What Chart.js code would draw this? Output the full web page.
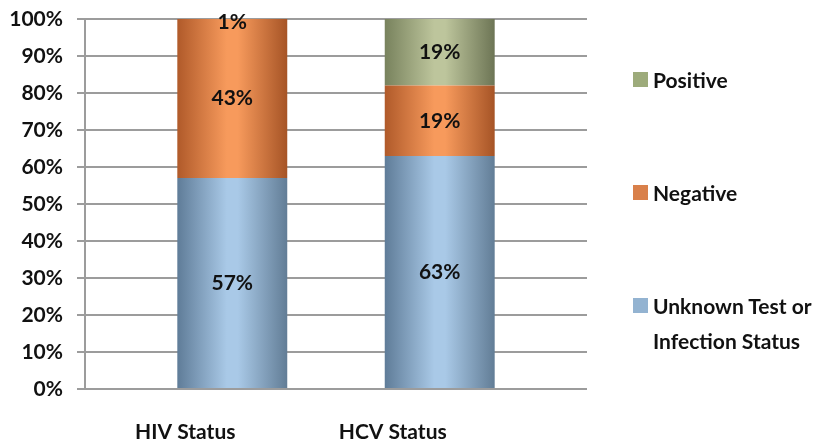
<!DOCTYPE html>
<html>
<head>
<meta charset="utf-8">
<script src="https://cdn.jsdelivr.net/npm/chart.js@4"></script>
<style>
  html, body { margin: 0; padding: 0; background: #fff; }
  .wrap { position: relative; width: 823px; height: 445px; }
  .legend { position: absolute; left: 633px; top: 62px; font: bold 21px Lato, sans-serif; color: #111; }
  .legend .item { display: flex; align-items: flex-start; line-height: 35px; margin-bottom: 78px; }
  .legend .box { width: 15px; height: 15px; margin: 10px 5px 0 0; flex: none; }
</style>
</head>
<body>
<div class="wrap">
  <canvas id="chart" width="823" height="445"></canvas>
  <div class="legend" id="legend"></div>
</div>
<script>
const categories = ["HIV Status", "HCV Status"];
const unknownStatus = [57, 63];
const negative = [43, 19];
const positive = [1, 19];
const yTicks = [0, 10, 20, 30, 40, 50, 60, 70, 80, 90, 100];

const BAR_PCT = 0.53;
const FONT = { family: "Lato, sans-serif", size: 21, weight: "bold" };

// shaded "cylinder" fill across each bar
function cylinder(left, mid, right) {
  return (ctx) => {
    const chart = ctx.chart;
    const x = chart.scales.x;
    if (!x || !chart.chartArea) return mid;
    const c = x.getPixelForValue(ctx.dataIndex);
    const half = (x.getPixelForValue(1) - x.getPixelForValue(0)) * BAR_PCT / 2;
    const g = chart.ctx.createLinearGradient(c - half, 0, c + half, 0);
    g.addColorStop(0, left);
    g.addColorStop(0.45, mid);
    g.addColorStop(0.55, mid);
    g.addColorStop(1, right);
    return g;
  };
}

function points(values) {
  return values.map((v, i) => ({ x: i, y: v }));
}

const series = [
  {
    label: "Unknown Test or\nInfection Status",
    data: points(unknownStatus),
    backgroundColor: cylinder("#5f7c98", "#a9c9e7", "#627d96"),
    legendColor: "#93b3d1",
  },
  {
    label: "Negative",
    data: points(negative),
    backgroundColor: cylinder("#b05a2a", "#f79a5c", "#a65426"),
    legendColor: "#d9804a",
  },
  {
    label: "Positive",
    data: points(positive),
    backgroundColor: cylinder("#78825d", "#bdc59c", "#6d7555"),
    legendColor: "#9dab7b",
  },
];

// percentage text in the middle of the visible part of each segment
const segmentLabels = {
  id: "segmentLabels",
  afterDatasetsDraw(chart) {
    const { ctx, chartArea } = chart;
    ctx.save();
    ctx.font = `${FONT.weight} ${FONT.size}px ${FONT.family}`;
    ctx.fillStyle = "#111";
    ctx.textAlign = "center";
    ctx.textBaseline = "middle";
    chart.data.datasets.forEach((ds, di) => {
      chart.getDatasetMeta(di).data.forEach((bar, i) => {
        const top = Math.max(bar.y, chartArea.top);
        const bottom = Math.min(bar.base, chartArea.bottom);
        const y = Math.max((top + bottom) / 2, chartArea.top + 3);
        ctx.fillText(ds.data[i].y + "%", bar.x, y);
      });
    });
    ctx.restore();
  },
};

const chart = new Chart(document.getElementById("chart"), {
  type: "bar",
  data: {
    datasets: series.map((s) => ({
      label: s.label,
      data: s.data,
      backgroundColor: s.backgroundColor,
      borderWidth: 0,
      barPercentage: BAR_PCT,
      categoryPercentage: 1,
      clip: 0,
    })),
  },
  options: {
    responsive: false,
    animation: false,
    layout: { padding: { top: 19, right: 236, left: 0, bottom: 0 } },
    scales: {
      x: {
        type: "linear",
        stacked: true,
        offset: false,
        min: -0.71,
        max: 1.71,
        grid: { display: false, drawTicks: false },
        border: { display: false },
        afterBuildTicks: (scale) => {
          scale.ticks = categories.map((_, i) => ({ value: i }));
        },
        afterFit: (scale) => {
          scale.height = 56;
        },
        ticks: {
          callback: (v) => categories[v],
          labelOffset: -47,
          padding: 31,
          color: "#111",
          font: FONT,
          maxRotation: 0,
        },
      },
      y: {
        stacked: true,
        min: 0,
        max: 100,
        afterBuildTicks: (scale) => {
          scale.ticks = yTicks.map((v) => ({ value: v }));
        },
        afterFit: (scale) => {
          scale.width = 85;
          scale.paddingTop = 0;
          scale.paddingBottom = 0;
        },
        grid: { color: "#9c9c9c", lineWidth: 2, tickLength: 8 },
        border: { color: "#9c9c9c", width: 2 },
        ticks: {
          callback: (v) => v + "%",
          padding: 14,
          color: "#111",
          font: FONT,
        },
      },
    },
    plugins: {
      legend: { display: false },
      tooltip: { enabled: false },
    },
  },
  plugins: [segmentLabels],
});

// legend on the right, top item is the top of the stack
const legend = document.getElementById("legend");
series.slice().reverse().forEach((s) => {
  const item = document.createElement("div");
  item.className = "item";
  const box = document.createElement("span");
  box.className = "box";
  box.style.background = s.legendColor;
  const text = document.createElement("span");
  text.innerHTML = s.label.split("\n").join("<br>");
  item.appendChild(box);
  item.appendChild(text);
  legend.appendChild(item);
});
</script>
</body>
</html>
